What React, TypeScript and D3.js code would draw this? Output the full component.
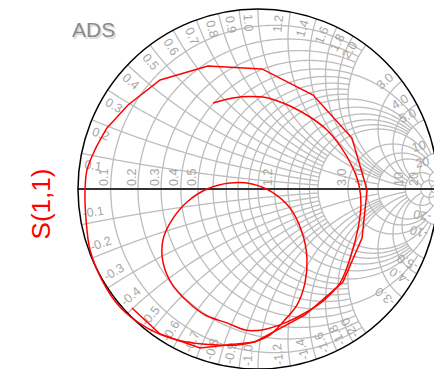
import React from 'react';
import * as d3 from 'd3';

const W = 434;
const H = 369;
const CX = 258;
const CY = 189;
const RAD = 180;

// S(1,1) reflection coefficient, real and imaginary parts, in sweep order
const s11Re = [
  -0.25, -0.139, -0.044, 0.056, 0.178, 0.289, 0.383, 0.461, 0.522, 0.561,
  0.572, 0.556, 0.517, 0.456, 0.367, 0.261, 0.15, 0.022, -0.072, -0.172,
  -0.294, -0.389, -0.478, -0.528, -0.528, -0.478, -0.394, -0.283, -0.156, -0.033,
  0.078, 0.178, 0.244, 0.272, 0.261, 0.217, 0.144, 0.056, -0.072, -0.228,
  -0.45, -0.617, -0.767, -0.867, -0.933, -0.956, -0.961, -0.95, -0.906, -0.839,
  -0.722, -0.544, -0.278, 0.022, 0.306, 0.522, 0.606, 0.578, 0.472, 0.261,
  -0.017, -0.322, -0.544, -0.7,
];
const s11Im = [
  0.478, 0.506, 0.514, 0.506, 0.461, 0.4, 0.328, 0.233, 0.128, 0.022,
  -0.089, -0.217, -0.367, -0.522, -0.617, -0.689, -0.744, -0.783, -0.783, -0.744,
  -0.7, -0.628, -0.528, -0.406, -0.283, -0.172, -0.072, 0.0, 0.033, 0.028,
  -0.017, -0.106, -0.239, -0.383, -0.522, -0.644, -0.733, -0.817, -0.861, -0.867,
  -0.839, -0.772, -0.656, -0.506, -0.339, -0.161, -0.006, 0.106, 0.217, 0.339,
  0.467, 0.606, 0.683, 0.667, 0.522, 0.283, -0.006, -0.272, -0.517, -0.7,
  -0.85, -0.883, -0.806, -0.661,
];
// samples before this index are dense; the remainder are widely spaced
const DENSE_COUNT = 50;

// constant-resistance circles and how far (in |x|) each one is drawn
const resistanceValues = [0.1, 0.2, 0.3, 0.4, 0.5, 0.6, 0.7, 0.8, 0.9, 1.0, 1.2, 1.4, 1.6, 1.8, 2, 3, 4, 5, 10, 20, 50];
const resistanceLimits = [2, 2, 2, 2, 5, 2, 2, 2, 2, 10, 5, 5, 5, 5, 10, 10, 10, 20, 20, 50, Infinity];
// constant-reactance arcs and how far (in r) each one is drawn
const reactanceValues = [0.1, 0.2, 0.3, 0.4, 0.5, 0.6, 0.7, 0.8, 0.9, 1.0, 1.2, 1.4, 1.6, 1.8, 2, 3, 4, 5, 10, 20, 50];
const reactanceLimits = [2, 2, 2, 2, 5, 2, 2, 2, 2, 10, 5, 5, 5, 5, 10, 10, 10, 20, 20, 50, Infinity];

// tick labels along the real axis and around the rim
const axisLabels = [0.1, 0.2, 0.3, 0.4, 0.5, 1.2, 3, 4, 10, 20];
const rimLabels = [0.1, 0.2, 0.3, 0.4, 0.5, 0.6, 0.7, 0.8, 0.9, 1.0, 1.2, 1.4, 1.6, 1.8, 2, 3, 4, 5, 10, 20];

const gx = d3.scaleLinear().domain([-1, 1]).range([CX - RAD, CX + RAD]);
const gy = d3.scaleLinear().domain([-1, 1]).range([CY + RAD, CY - RAD]);

type Pt = [number, number];

function gamma(r: number, x: number): Pt {
  const d = (r + 1) * (r + 1) + x * x;
  return [(r * r + x * x - 1) / d, (2 * x) / d];
}

const line = d3.line<Pt>().x((p) => gx(p[0])).y((p) => gy(p[1]));
const TWO_PI = Math.PI * 2;
const norm = (a: number) => ((a % TWO_PI) + TWO_PI) % TWO_PI;

function resistancePath(r: number, xmax: number): string {
  const c = r / (1 + r);
  const rho = 1 / (1 + r);
  let a0 = 0;
  if (isFinite(xmax)) {
    const g = gamma(r, xmax);
    a0 = Math.atan2(g[1], g[0] - c);
  }
  const a1 = TWO_PI - a0;
  const pts: Pt[] = d3.range(0, 241).map((i) => {
    const a = a0 + ((a1 - a0) * i) / 240;
    return [c + rho * Math.cos(a), rho * Math.sin(a)];
  });
  return line(pts) || '';
}

function reactancePath(x: number, rmax: number): string {
  const ax = Math.abs(x);
  const s = Math.sign(x);
  const k = 1 / ax;
  const g0 = gamma(0, ax);
  const b0 = norm(Math.atan2(g0[1] - k, g0[0] - 1));
  let b1 = 1.5 * Math.PI;
  if (isFinite(rmax)) {
    const g1 = gamma(rmax, ax);
    b1 = norm(Math.atan2(g1[1] - k, g1[0] - 1));
  }
  const pts: Pt[] = d3.range(0, 241).map((i) => {
    const b = b0 + ((b1 - b0) * i) / 240;
    return [1 + k * Math.cos(b), s * (k + k * Math.sin(b))];
  });
  return line(pts) || '';
}

const fmt = (v: number) => (v >= 10 ? String(v) : v.toFixed(1));

const FONT = 'Liberation Sans, Arial, sans-serif';
const GRID = '#bdbdbd';
const LABEL = '#a6a6a6';

export default function App() {
  const trace: Pt[] = s11Re.map((re, i) => [re, s11Im[i]]);
  const dense = trace.slice(0, DENSE_COUNT);
  const sparse = trace.slice(DENSE_COUNT - 1);
  const smooth = d3.line<Pt>().x((p) => gx(p[0])).y((p) => gy(p[1])).curve(d3.curveCatmullRom.alpha(0.5));

  const rimItems: { key: string; text: string; x: number; y: number; rot: number }[] = [];
  const labelR = RAD * 0.925;
  rimLabels.forEach((v) => {
    const g = gamma(0, v);
    const phi = (Math.atan2(g[1], g[0]) * 180) / Math.PI;
    [1, -1].forEach((sgn) => {
      const phiL = sgn * (phi + 3.4);
      let rot: number;
      if (sgn > 0) rot = phiL <= 90 ? -phiL : 180 - phiL;
      else rot = 180 - phiL;
      const rad = (phiL * Math.PI) / 180;
      rimItems.push({
        key: `${sgn}-${v}`,
        text: (sgn < 0 ? '-' : '') + fmt(v),
        x: CX + labelR * Math.cos(rad),
        y: CY - labelR * Math.sin(rad),
        rot,
      });
    });
  });

  return (
    <svg
      width={W}
      height={H}
      viewBox={`0 0 ${W} ${H}`}
      style={{ position: 'absolute', left: 0, top: 0, background: '#fff' }}
    >
      <defs>
        <clipPath id="disk">
          <circle cx={CX} cy={CY} r={RAD} />
        </clipPath>
      </defs>
      <rect width={W} height={H} fill="#fff" />

      <g clipPath="url(#disk)" fill="none" stroke={GRID} strokeWidth={1.3}>
        {resistanceValues.map((r, i) => (
          <path key={`r${r}`} d={resistancePath(r, resistanceLimits[i])} />
        ))}
        {reactanceValues.map((x, i) => (
          <g key={`x${x}`}>
            <path d={reactancePath(x, reactanceLimits[i])} />
            <path d={reactancePath(-x, reactanceLimits[i])} />
          </g>
        ))}
      </g>

      <line x1={gx(-1)} x2={gx(1)} y1={gy(0)} y2={gy(0)} stroke="#333" strokeWidth={1.9} />
      <circle cx={CX} cy={CY} r={RAD} fill="none" stroke="#000" strokeWidth={1.5} />

      <g fontFamily={FONT} fontSize={12.5} fill={LABEL}>
        {axisLabels.map((r) => {
          const bx = gx(gamma(r, 0)[0]) - 2.5;
          return (
            <text key={`a${r}`} transform={`translate(${bx},${gy(0) - 3}) rotate(-90)`}>
              {fmt(r)}
            </text>
          );
        })}
        {rimItems.map((d) => (
          <text
            key={d.key}
            transform={`translate(${d.x},${d.y}) rotate(${d.rot})`}
            textAnchor="middle"
            dominantBaseline="central"
          >
            {d.text}
          </text>
        ))}
      </g>

      <g fill="none" stroke="#ff0000" strokeWidth={1.5} strokeLinejoin="miter">
        <path d={smooth(dense) || ''} />
        <path d={line(sparse) || ''} />
      </g>

      <g fontFamily={FONT}>
        <text x={73.5} y={38.5} fontSize={21} fill="#dadada">ADS</text>
        <text x={72} y={37} fontSize={21} fill="#8a8a8a">ADS</text>
      </g>
      <text
        transform={`translate(50,${CY + 15}) rotate(-90)`}
        textAnchor="middle"
        fontFamily={FONT}
        fontSize={26}
        fill="#ff0000"
      >
        S(1,1)
      </text>
    </svg>
  );
}
